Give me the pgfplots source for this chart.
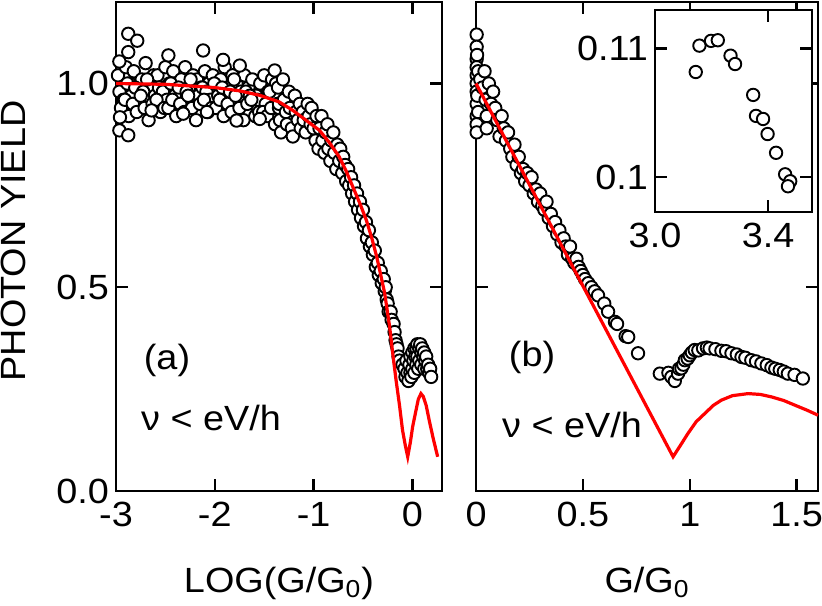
\documentclass[border=0pt]{standalone}
\usepackage{fontspec}
\setmainfont[FakeStretch=1.08]{Liberation Sans}
\usepackage{pgfplots}
\pgfplotsset{compat=1.18}

\newcommand{\lbl}{\fontsize{17.5}{19}\selectfont}

\pgfplotsset{
  panel/.style={
    scale only axis, anchor=south west,
    tick align=inside, major tick length=6pt,
    axis line style={line width=1.2pt},
    every tick/.style={line width=1.2pt, black},
    tick label style={font=\lbl},
    xticklabel style={yshift=-2pt},
    clip=false, clip marker paths=true,
  },
  dots/.style={only marks, mark=*, mark size=3.1pt,
    mark options={fill=white, draw=black, line width=0.95pt}},
  fit/.style={red, line width=1.6pt, no marks},
}

\begin{document}
\begin{tikzpicture}
\path[use as bounding box] (0,0) rectangle (411pt,302.5pt);

% ---------- (a) ----------
\begin{axis}[panel, at={(58pt,57pt)}, width=163pt, height=244.5pt,
  xmin=-3, xmax=0.3, ymin=0, ymax=1.2,
  xtick={-3,-2,-1,0}, xticklabels={-3,-2,-1,0},
  ytick={0,0.5,1}, yticklabels={0.0,0.5,1.0}]
\addplot[dots] coordinates {
 (-2.98,1.02) (-2.94,0.99) (-2.90,1.04) (-2.86,1.00) (-2.82,1.03) (-2.78,0.98) (-2.74,1.01)
 (-2.70,1.05) (-2.66,0.99) (-2.62,1.02) (-2.58,1.02) (-2.54,0.99) (-2.50,1.04) (-2.46,1.00)
 (-2.42,1.03) (-2.38,0.98) (-2.34,1.01) (-2.30,1.04) (-2.26,0.99) (-2.22,1.02) (-2.18,1.01)
 (-2.14,0.99) (-2.10,1.03) (-2.06,1.00) (-2.02,1.02) (-1.98,0.98) (-1.94,1.01) (-1.90,1.04)
 (-1.86,0.99) (-1.82,1.02) (-1.78,1.00) (-1.74,0.98) (-1.70,1.02) (-1.66,0.99) (-1.62,1.01)
 (-1.58,0.97) (-1.54,1.00) (-1.50,1.02) (-1.46,0.98) (-1.42,1.01) (-1.38,1.00)
 (-2.965,0.98) (-2.925,0.96) (-2.885,1.00) (-2.845,0.97) (-2.805,0.99) (-2.765,0.95)
 (-2.725,0.98) (-2.685,1.01) (-2.645,0.96) (-2.605,0.97) (-2.565,0.99) (-2.525,0.98)
 (-2.485,0.96) (-2.445,1.00) (-2.405,0.97) (-2.365,0.99) (-2.325,0.95) (-2.285,0.98)
 (-2.245,1.01) (-2.205,0.96) (-2.165,0.97) (-2.125,0.99) (-2.085,0.98) (-2.045,0.96)
 (-2.005,1.00) (-1.965,0.97) (-1.925,0.99) (-1.885,0.95) (-1.845,0.98) (-1.805,1.01)
 (-1.765,0.95) (-1.725,0.96) (-1.685,0.98) (-1.645,0.97) (-1.605,0.95) (-1.565,0.96)
 (-1.525,0.93) (-1.485,0.95) (-1.445,0.98) (-1.405,0.94) (-1.365,0.95)
 (-2.95,0.94) (-2.91,0.96) (-2.87,0.92) (-2.83,0.95) (-2.79,0.93) (-2.75,0.97) (-2.71,0.94)
 (-2.67,0.91) (-2.63,0.95) (-2.59,0.96) (-2.55,0.93) (-2.51,0.94) (-2.47,0.94) (-2.43,0.96)
 (-2.39,0.92) (-2.35,0.95) (-2.31,0.93) (-2.27,0.97) (-2.23,0.94) (-2.19,0.91) (-2.15,0.95)
 (-2.11,0.96) (-2.07,0.93) (-2.03,0.94) (-1.99,0.94) (-1.95,0.96) (-1.91,0.92) (-1.87,0.95)
 (-1.83,0.93) (-1.79,0.97) (-1.75,0.94) (-1.71,0.91) (-1.67,0.95) (-1.63,0.96) (-1.59,0.92)
 (-1.55,0.93) (-1.51,0.93) (-1.47,0.92) (-1.43,0.94) (-1.39,0.90) (-1.35,0.94)
 (-2.876,1.122) (-2.785,1.105) (-2.876,1.077) (-2.966,1.054) (-2.118,1.081) (-1.916,1.058)
 (-2.47,1.069) (-1.747,1.044) (-1.394,1.032) (-2.96,0.917) (-2.966,0.885) (-2.876,0.873)
 (-2.64,0.934) (-2.32,0.926) (-2.08,0.93) (-1.78,0.909) (-1.545,0.913)
 (-1.36,0.99) (-1.35,0.95) (-1.34,0.91) (-1.33,0.88) (-1.31,1.01) (-1.30,0.96) (-1.28,0.93)
 (-1.27,0.90) (-1.25,0.98) (-1.24,0.94) (-1.22,0.89) (-1.21,0.87) (-1.19,0.97) (-1.18,0.93)
 (-1.16,0.91) (-1.14,0.95) (-1.13,0.89) (-1.11,0.93) (-1.10,0.91) (-1.08,0.88) (-1.06,0.95)
 (-1.05,0.92) (-1.03,0.90) (-1.02,0.94) (-1.00,0.89)
 (-0.98,0.86) (-0.97,0.92) (-0.95,0.84) (-0.94,0.89) (-0.92,0.92) (-0.91,0.86) (-0.89,0.83)
 (-0.88,0.88) (-0.86,0.90) (-0.85,0.84) (-0.83,0.81) (-0.82,0.86) (-0.80,0.88) (-0.79,0.83)
 (-0.77,0.79) (-0.76,0.85) (-0.74,0.81) (-0.73,0.84) (-0.71,0.78) (-0.70,0.82) (-0.68,0.80)
 (-0.67,0.76) (-0.65,0.79) (-0.64,0.75) (-0.62,0.77) (-0.61,0.73) (-0.59,0.75) (-0.58,0.71)
 (-0.56,0.73) (-0.55,0.69) (-0.53,0.71) (-0.52,0.67) (-0.50,0.69) (-0.49,0.65) (-0.47,0.66)
 (-0.46,0.62) (-0.44,0.64) (-0.43,0.60) (-0.41,0.61) (-0.40,0.58) (-0.38,0.59) (-0.37,0.55)
 (-0.35,0.56) (-0.34,0.53) (-0.32,0.54) (-0.31,0.51) (-0.29,0.52) (-0.28,0.49) (-0.27,0.50)
 (-0.26,0.47) (-0.25,0.46) (-0.24,0.44) (-0.22,0.44) (-0.21,0.42) (-0.19,0.41) (-0.18,0.39)
 (-0.17,0.37) (-0.16,0.36) (-0.15,0.35) (-0.14,0.33) (-0.13,0.32)
 (-0.10,0.31) (-0.08,0.30) (-0.07,0.28) (-0.06,0.32) (-0.05,0.29) (-0.04,0.27) (-0.03,0.31)
 (-0.02,0.33) (-0.02,0.29) (-0.01,0.28) (0.00,0.34) (0.00,0.30) (0.01,0.32) (0.02,0.35)
 (0.02,0.29) (0.03,0.33) (0.04,0.35) (0.04,0.31) (0.05,0.36) (0.05,0.33) (0.06,0.30)
 (0.07,0.35) (0.07,0.32) (0.08,0.36) (0.09,0.34) (0.09,0.31) (0.10,0.35) (0.11,0.33)
 (0.12,0.34) (0.12,0.30) (0.13,0.32) (0.14,0.33) (0.15,0.30) (0.16,0.31) (0.17,0.29)
 (0.18,0.30) (0.19,0.28)
};
\addplot[fit] coordinates {
 (-3,1.0) (-2.5,0.998) (-2.0,0.99) (-1.75,0.982) (-1.545,0.971) (-1.35,0.955) (-1.21,0.934)
 (-1.05,0.905) (-0.94,0.885) (-0.84,0.855) (-0.74,0.82) (-0.67,0.785) (-0.6,0.745)
 (-0.53,0.705) (-0.465,0.664) (-0.41,0.62) (-0.36,0.574) (-0.32,0.53) (-0.28,0.485)
 (-0.23,0.403) (-0.2,0.34) (-0.165,0.272) (-0.13,0.21) (-0.1,0.15) (-0.07,0.11) (-0.047,0.084)
 (-0.02,0.12) (0.003,0.158) (0.03,0.19) (0.06,0.225) (0.087,0.239) (0.11,0.232) (0.14,0.21)
 (0.17,0.174) (0.21,0.13) (0.256,0.084)
};
\end{axis}

% ---------- (b) ----------
\begin{axis}[panel, at={(238pt,57pt)}, width=171pt, height=244.5pt,
  xmin=0, xmax=1.6, ymin=0, ymax=1.2,
  xtick={0,0.5,1,1.5}, xticklabels={0,0.5,1,1.5},
  ytick={0,0.5,1}, yticklabels={,,}]
\addplot[dots] coordinates {
 (0.003,1.12) (0.003,1.09) (0.003,1.06) (0.003,1.04) (0.003,1.02) (0.003,1.00) (0.003,0.98)
 (0.003,0.95) (0.003,0.92) (0.003,0.90) (0.003,0.88) (0.005,1.07) (0.006,0.97) (0.01,1.03)
 (0.01,0.93) (0.02,1.01) (0.03,0.99) (0.04,1.03) (0.045,0.96) (0.05,0.92) (0.05,0.89)
 (0.06,1.00) (0.07,0.95) (0.08,0.98) (0.09,0.94) (0.10,0.91) (0.11,0.87) (0.12,0.92)
 (0.13,0.89) (0.14,0.86) (0.15,0.88) (0.16,0.84) (0.17,0.82) (0.18,0.85) (0.19,0.80)
 (0.20,0.82) (0.21,0.78) (0.22,0.79) (0.23,0.76) (0.24,0.78) (0.25,0.75) (0.26,0.77)
 (0.27,0.73) (0.28,0.74) (0.29,0.71) (0.30,0.73) (0.31,0.70) (0.32,0.69) (0.33,0.71)
 (0.34,0.67) (0.35,0.68) (0.36,0.65) (0.37,0.66) (0.38,0.63) (0.39,0.64) (0.40,0.61)
 (0.41,0.62) (0.42,0.60) (0.43,0.58) (0.44,0.60) (0.45,0.57) (0.46,0.56) (0.47,0.57)
 (0.48,0.55) (0.49,0.54) (0.50,0.53) (0.51,0.52) (0.525,0.51) (0.54,0.50) (0.555,0.49)
 (0.571,0.48) (0.60,0.46) (0.618,0.44) (0.65,0.415) (0.66,0.41) (0.70,0.38) (0.712,0.378)
 (0.758,0.338) (0.86,0.288) (0.90,0.29) (0.914,0.28) (0.93,0.27) (0.945,0.288) (0.95,0.30)
 (0.961,0.301) (0.97,0.31) (0.977,0.321) (0.99,0.325) (1.0,0.333) (1.01,0.34) (1.023,0.346)
 (1.04,0.345) (1.062,0.350) (1.08,0.352) (1.093,0.350) (1.12,0.348) (1.148,0.344)
 (1.17,0.343) (1.195,0.338) (1.22,0.335) (1.242,0.329) (1.26,0.327) (1.288,0.321)
 (1.31,0.318) (1.335,0.313) (1.36,0.309) (1.382,0.303) (1.40,0.30) (1.421,0.297)
 (1.44,0.293) (1.459,0.288) (1.49,0.285) (1.529,0.276)
};
\addplot[fit] coordinates {
 (0,1.0) (0.922,0.084) (0.96,0.115) (0.99,0.14) (1.03,0.17) (1.07,0.19) (1.11,0.21)
 (1.148,0.223) (1.2,0.234) (1.273,0.239) (1.33,0.237) (1.382,0.231) (1.44,0.222)
 (1.49,0.211) (1.55,0.198) (1.6,0.186)
};
\end{axis}

% ---------- inset ----------
\begin{axis}[panel, at={(327.5pt,196.5pt)}, width=78.5pt, height=101pt,
  axis background/.style={fill=white},
  xmin=3.0, xmax=3.555, ymin=0.0973, ymax=0.1130,
  xtick={3.0,3.4}, xticklabels={3.0,3.4},
  ytick={0.1,0.11}, yticklabels={0.1,0.11}]
\addplot[dots] coordinates {
 (3.144,0.10818) (3.157,0.11023) (3.198,0.1106) (3.222,0.11065) (3.267,0.10945)
 (3.283,0.1088) (3.347,0.1064) (3.357,0.10477) (3.382,0.10453) (3.398,0.10336)
 (3.428,0.1019) (3.460,0.10023) (3.478,0.09969) (3.470,0.0993)
};
\end{axis}

% ---------- labels ----------
\node[rotate=90, font=\lbl] at (6.75pt,182pt) {PHOTON YIELD};
\node[anchor=base, font=\lbl] at (139.5pt,6.5pt) {LOG(G/G\textsubscript{0})};
\node[anchor=base, font=\lbl] at (323.5pt,6.5pt) {G/G\textsubscript{0}};
\node[font=\lbl] at (83.5pt,122.5pt) {(a)};
\node[anchor=base, font=\lbl] at (105.5pt,87.5pt) {ν < eV/h};
\node[font=\lbl] at (266pt,124pt) {(b)};
\node[anchor=base, font=\lbl] at (286pt,84pt) {ν < eV/h};
\end{tikzpicture}
\end{document}
